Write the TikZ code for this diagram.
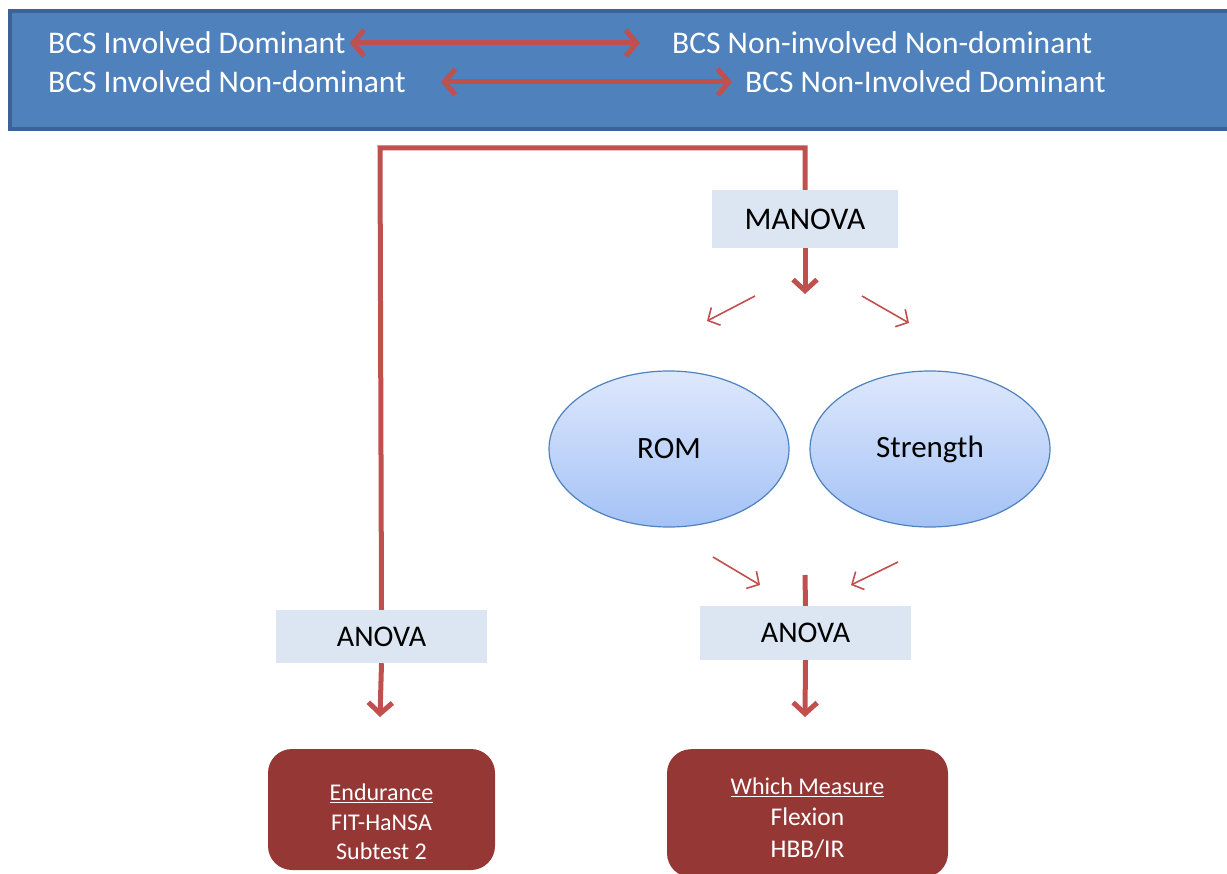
\documentclass[tikz,border=0pt]{standalone}
\usepackage{fontspec}
\setmainfont{Carlito}
\usetikzlibrary{arrows.meta,shapes.geometric}
\definecolor{bannerfill}{HTML}{4F81BD}
\definecolor{bannerdraw}{HTML}{3B6394}
\definecolor{arrowred}{HTML}{C0504D}
\definecolor{boxlight}{HTML}{DCE6F2}
\definecolor{boxdark}{HTML}{953735}
\definecolor{elltop}{HTML}{DEE8FC}
\definecolor{ellbot}{HTML}{A4C2F6}
\tikzset{
  bannertext/.style={text=white, font=\fontsize{31.5}{36}\selectfont, anchor=west, inner sep=0pt},
  labelbox/.style={fill=boxlight, draw=none, font=\fontsize{30}{34}\selectfont, inner sep=0pt},
  ellnode/.style={ellipse, draw=bannerfill, line width=1.2pt, top color=elltop, bottom color=ellbot, minimum width=240pt, minimum height=156pt, font=\fontsize{31}{34}\selectfont},
  resultbox/.style={fill=boxdark, rounded corners=24pt, inner sep=0pt},
  resulttext/.style={text=white, align=center, inner sep=0pt},
  bigarrow/.style={draw=arrowred, line width=5pt, -{Straight Barb[length=11pt,width=24pt]}},
  dblarrow/.style={draw=arrowred, line width=5pt, {Straight Barb[length=11pt,width=26pt]}-{Straight Barb[length=11pt,width=26pt]}},
  thinarrow/.style={draw=arrowred, line width=1.6pt, -{Straight Barb[length=9pt,width=20pt]}},
  flowline/.style={draw=arrowred, line width=5pt},
}
\begin{document}
\begin{tikzpicture}[x=1pt,y=-1pt]
\useasboundingbox (0,0) rectangle (1227,874);
% banner
\node[draw=bannerdraw, fill=bannerfill, line width=4pt, minimum width=1224pt, minimum height=118pt, anchor=north west, inner sep=0pt] (banner) at (8,9) {};
\node[bannertext] (t1) at (48,43) {BCS Involved Dominant};
\node[bannertext] (t2) at (672,43) {BCS Non-involved Non-dominant};
\node[bannertext] (t3) at (48,82) {BCS Involved Non-dominant};
\node[bannertext] (t4) at (745,82) {BCS Non-Involved Dominant};
\draw[dblarrow] ([xshift=4pt]t1.east) -- ([xshift=-32pt]t2.west);
\draw[dblarrow] ([xshift=35pt]t3.east) -- ([xshift=-13pt]t4.west);

% boxes
\node[labelbox, minimum width=186pt, minimum height=58pt, font=\fontsize{31.5}{34}\selectfont] (manova) at (805,219) {MANOVA};
\node[labelbox, minimum width=211pt, minimum height=53pt] (anovaL) at (381.5,636.5) {ANOVA};
\node[labelbox, minimum width=211pt, minimum height=54pt] (anovaR) at (805.5,633) {ANOVA};

\node[ellnode] (rom) at (669,449) {ROM};
\node[ellnode] (strength) at (930,449) {Strength};

\node[resultbox, minimum width=227pt, minimum height=121pt] (endur) at (381.5,809.5) {};
\node[resulttext, font=\fontsize{24}{29.5}\selectfont] (endurText) at (381.5,822) {\underline{Endurance}\\FIT-HaNSA\\Subtest 2};
\node[resultbox, minimum width=281pt, minimum height=128pt, anchor=north] (which) at (807.5,749) {};
\node[resulttext, font=\fontsize{24}{30}\selectfont] (whichText) at (807.5,818) {\underline{Which Measure}\\[1pt]\fontsize{25.5}{30}\selectfont Flexion\\[2pt]\fontsize{25.5}{30}\selectfont HBB/IR};

% coordinates
\coordinate (corner) at (380,148);
\coordinate (tipL) at (380,717);
\coordinate (tipM) at (805,294);
\coordinate (startR) at (805,575);
\coordinate (tipR) at (805,717);
\coordinate (sl1) at (755,296);
\coordinate (el1) at (707,321);
\coordinate (sr1) at (862,296);
\coordinate (er1) at (909,323);
\coordinate (sl2) at (713,557);
\coordinate (el2) at (760,585);
\coordinate (sr2) at (898,562);
\coordinate (er2) at (851,585);

% connectors
\draw[flowline] (manova.north) |- (corner) -- (anovaL.north);
\draw[bigarrow] (anovaL.south) -- (tipL);
\draw[bigarrow] (manova.south) -- (tipM);
\draw[thinarrow] (sl1) -- (el1);
\draw[thinarrow] (sr1) -- (er1);
\draw[thinarrow] (sl2) -- (el2);
\draw[thinarrow] (sr2) -- (er2);
\draw[flowline] (startR) -- (anovaR.north);
\draw[bigarrow] (anovaR.south) -- (tipR);
\end{tikzpicture}
\end{document}
